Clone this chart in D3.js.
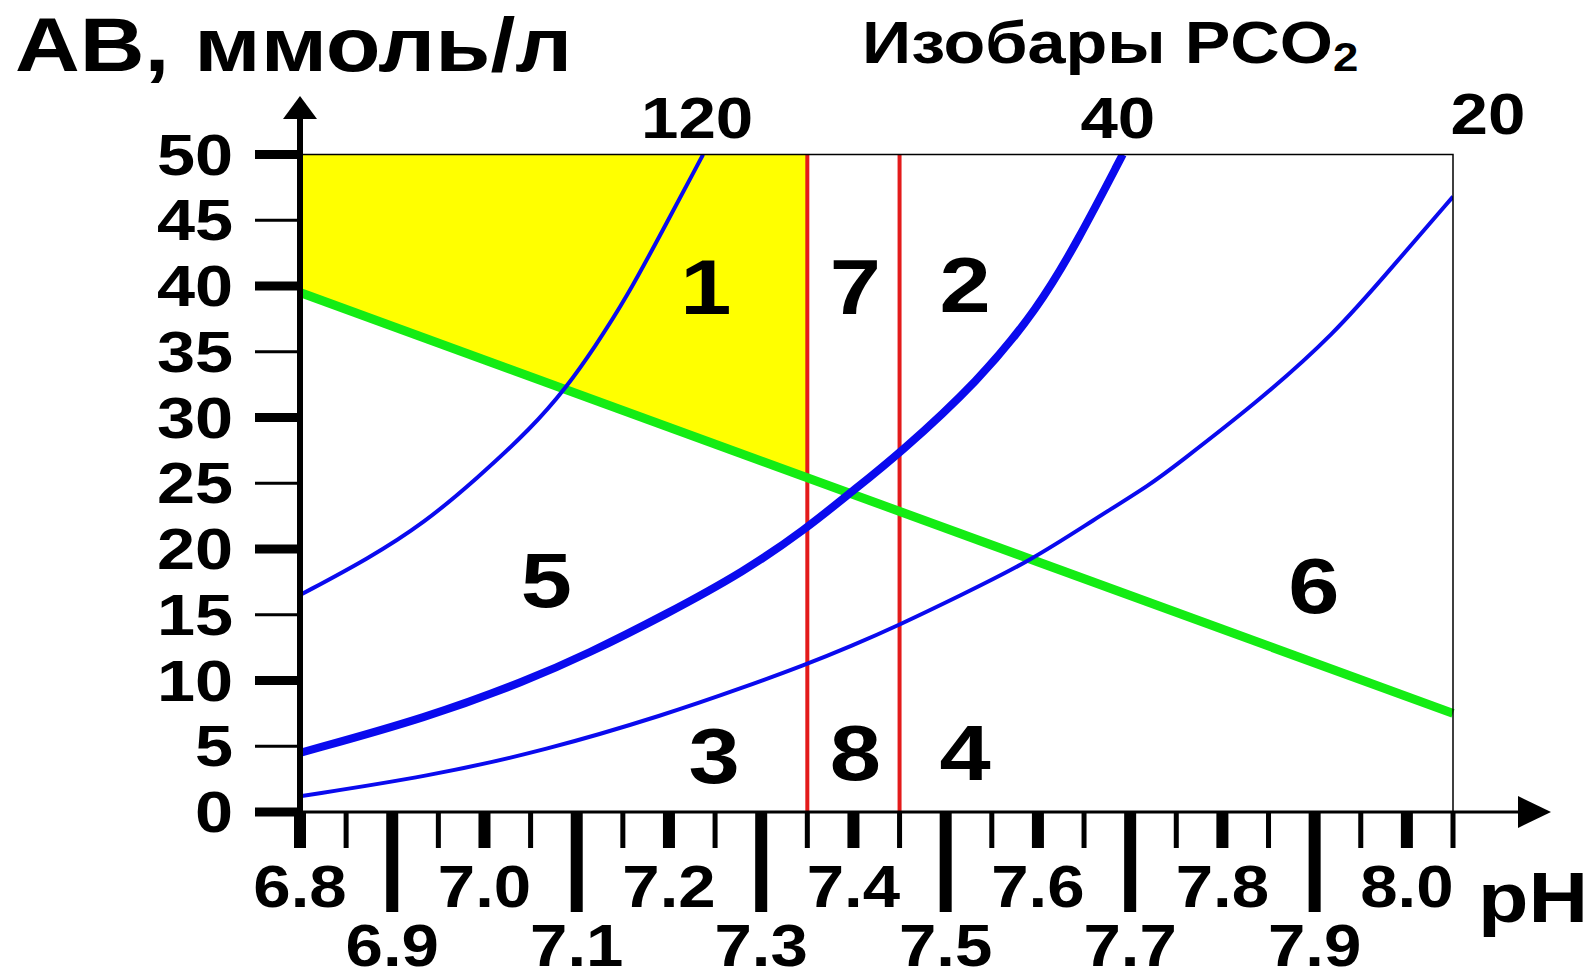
<!DOCTYPE html>
<html>
<head>
<meta charset="utf-8">
<script src="https://cdn.jsdelivr.net/npm/d3@7/dist/d3.min.js"></script>
<style>
  body { margin: 0; background: #fff; }
  svg text { font-family: "Liberation Sans", Arial, sans-serif; font-weight: bold; fill: #000; }
</style>
</head>
<body>
<div id="main"></div>
<script>
// axis ticks / labels
const phTicks = [6.8, 6.85, 6.9, 6.95, 7.0, 7.05, 7.1, 7.15, 7.2, 7.25, 7.3, 7.35, 7.4,
                 7.45, 7.5, 7.55, 7.6, 7.65, 7.7, 7.75, 7.8, 7.85, 7.9, 7.95, 8.0, 8.05];
const phLabelsUpper = ["6.8", "7.0", "7.2", "7.4", "7.6", "7.8", "8.0"];
const phLabelsLower = ["6.9", "7.1", "7.3", "7.5", "7.7", "7.9"];
const abTicks = [0, 5, 10, 15, 20, 25, 30, 35, 40, 45, 50];

// PCO2 isobars
const isobarNames = ["120", "40", "20"];
const iso120PH = [6.8, 6.875, 6.935, 6.991, 7.051, 7.089, 7.119, 7.154, 7.196, 7.237];
const iso120AB = [16.5, 19.3, 22.0, 25.3, 29.2, 32.3, 35.3, 39.1, 44.6, 50];
const iso40PH = [6.8, 6.939, 7.046, 7.111, 7.196, 7.282, 7.348, 7.397, 7.449, 7.536, 7.6, 7.643, 7.692];
const iso40AB = [4.5, 7.2, 10.0, 12.0, 15.0, 18.3, 21.5, 24.3, 27.2, 32.8, 38.3, 43.4, 50];
const iso20PH = [6.8, 6.939, 7.067, 7.196, 7.282, 7.348, 7.397, 7.449, 7.514, 7.592, 7.66,
                 7.724, 7.75, 7.835, 7.921, 7.986, 8.05];
const iso20AB = [1.2, 2.7, 4.7, 7.4, 9.5, 11.2, 12.6, 14.2, 16.4, 19.1, 22.2, 25.0, 26.4,
                 31.0, 36.3, 41.6, 46.8];

// buffer line and normal pH limits
const bufferPH = [6.8, 8.05];
const bufferAB = [39.5, 7.5];
const normalPH = [7.35, 7.45];

// region numbers
const regionNames = ["1", "7", "2", "5", "6", "3", "8", "4"];
const regionPH = [7.24, 7.402, 7.521, 7.067, 7.899, 7.249, 7.402, 7.521];
const regionAB = [37.9, 37.9, 38.0, 15.6, 15.1, 2.2, 2.4, 2.4];

const SX = 1.18; // the original lettering is stretched horizontally

const svg = d3.select("#main").append("svg")
  .attr("width", 1593)
  .attr("height", 972);

const x = d3.scaleLinear().domain([6.8, 8.05]).range([300, 1453]);
const y = d3.scaleLinear().domain([0, 50]).range([812, 154.5]);
const buffer = d3.scaleLinear().domain(bufferPH).range(bufferAB);

function label(g, str, px, py, size, anchor, sx) {
  return g.append("text")
    .attr("transform", "translate(" + px + "," + py + ") scale(" + (sx || SX) + ",1)")
    .attr("text-anchor", anchor)
    .style("font-size", size + "px")
    .text(str);
}

svg.append("clipPath").attr("id", "plot-clip")
  .append("rect")
    .attr("x", x(6.8)).attr("y", y(50))
    .attr("width", x(8.05) - x(6.8)).attr("height", y(0) - y(50));

// yellow zone
var yellow = [[6.8, 50], [normalPH[0], 50], [normalPH[0], buffer(normalPH[0])], [6.8, buffer(6.8)]];
svg.append("polygon")
  .attr("points", yellow.map(d => x(d[0]) + "," + y(d[1])).join(" "))
  .attr("fill", "#ffff00");

// red lines
svg.selectAll(".normal")
  .data(normalPH)
.enter().append("line")
  .attr("class", "normal")
  .attr("x1", d => x(d)).attr("x2", d => x(d))
  .attr("y1", y(50)).attr("y2", y(0))
  .attr("stroke", "#e31b1b")
  .attr("stroke-width", 4);

// buffer line
svg.append("line")
  .attr("x1", x(bufferPH[0])).attr("y1", y(bufferAB[0]))
  .attr("x2", x(bufferPH[1])).attr("y2", y(bufferAB[1]))
  .attr("stroke", "#14ec14")
  .attr("stroke-width", 9);

// isobars
var line = d3.line()
  .x(d => x(d[0]))
  .y(d => y(d[1]))
  .curve(d3.curveBasis);

var isobars = [
  { name: isobarNames[0], pts: d3.zip(iso120PH, iso120AB), w: 4 },
  { name: isobarNames[1], pts: d3.zip(iso40PH, iso40AB), w: 8 },
  { name: isobarNames[2], pts: d3.zip(iso20PH, iso20AB), w: 4 }
];

svg.append("g")
  .attr("clip-path", "url(#plot-clip)")
  .selectAll("path")
  .data(isobars)
.enter().append("path")
  .attr("d", d => line(d.pts))
  .attr("fill", "none")
  .attr("stroke", "#0a0aee")
  .attr("stroke-width", d => d.w);

// frame (top and right)
svg.append("path")
  .attr("d", "M" + x(6.8) + "," + y(50) + "H" + x(8.05) + "V" + y(0))
  .attr("fill", "none")
  .attr("stroke", "#000")
  .attr("stroke-width", 1.5);

// axes
var axes = svg.append("g");
axes.append("line")
  .attr("x1", x(6.8)).attr("x2", 1520)
  .attr("y1", y(0)).attr("y2", y(0))
  .attr("stroke", "#000").attr("stroke-width", 3);
axes.append("path")
  .attr("d", "M1518," + (y(0) - 16) + "L1551," + y(0) + "L1518," + (y(0) + 16) + "Z");
axes.append("line")
  .attr("x1", x(6.8)).attr("x2", x(6.8))
  .attr("y1", y(0) + 2).attr("y2", 115)
  .attr("stroke", "#000").attr("stroke-width", 6);
axes.append("path")
  .attr("d", "M" + (x(6.8) - 17) + ",119L" + x(6.8) + ",96L" + (x(6.8) + 17) + ",119Z");

// y ticks
axes.selectAll(".ytick")
  .data(abTicks)
.enter().append("rect")
  .attr("class", "ytick")
  .attr("x", 255)
  .attr("width", x(6.8) - 255)
  .attr("y", d => y(d) - (d % 10 == 0 ? 4.5 : 1.5))
  .attr("height", d => d % 10 == 0 ? 9 : 3);

abTicks.forEach(d => label(axes, String(d), 233, y(d) + 20, 58, "end"));

// x ticks: thin at .05, medium at even tenths, long at odd tenths
axes.selectAll(".xtick")
  .data(phTicks)
.enter().append("rect")
  .attr("class", "xtick")
  .attr("x", (d, i) => x(d) - (i % 2 == 1 ? 2.5 : 6))
  .attr("width", (d, i) => i % 2 == 1 ? 5 : 12)
  .attr("y", y(0))
  .attr("height", (d, i) => i % 4 == 2 ? 100 : 36);

phLabelsUpper.forEach(s => label(axes, s, x(+s), 907, 60, "middle", 1.12));
phLabelsLower.forEach(s => label(axes, s, x(+s), 966, 60, "middle", 1.12));
label(axes, "pH", 1480 + 53, 922, 70, "middle");

// titles
label(svg, "AB, ммоль/л", 15, 71, 76, "start");
var iz = label(svg, "Изобары PCO", 862, 63, 60, "start", 1.14);
iz.append("tspan").attr("dy", 8).style("font-size", "40px").text("2");

// isobar values above the frame
var last = isobars.map(d => d.pts[d.pts.length - 1]);
label(svg, isobarNames[0], x(last[0][0]) - 6, 138, 57, "middle");
label(svg, isobarNames[1], x(last[1][0]) - 5, 138, 57, "middle");
label(svg, isobarNames[2], x(last[2][0]) + 35, 134, 57, "middle");

// region numbers
regionNames.forEach((s, i) => label(svg, s, x(regionPH[i]), y(regionAB[i]), 78, "middle"));
</script>
</body>
</html>
